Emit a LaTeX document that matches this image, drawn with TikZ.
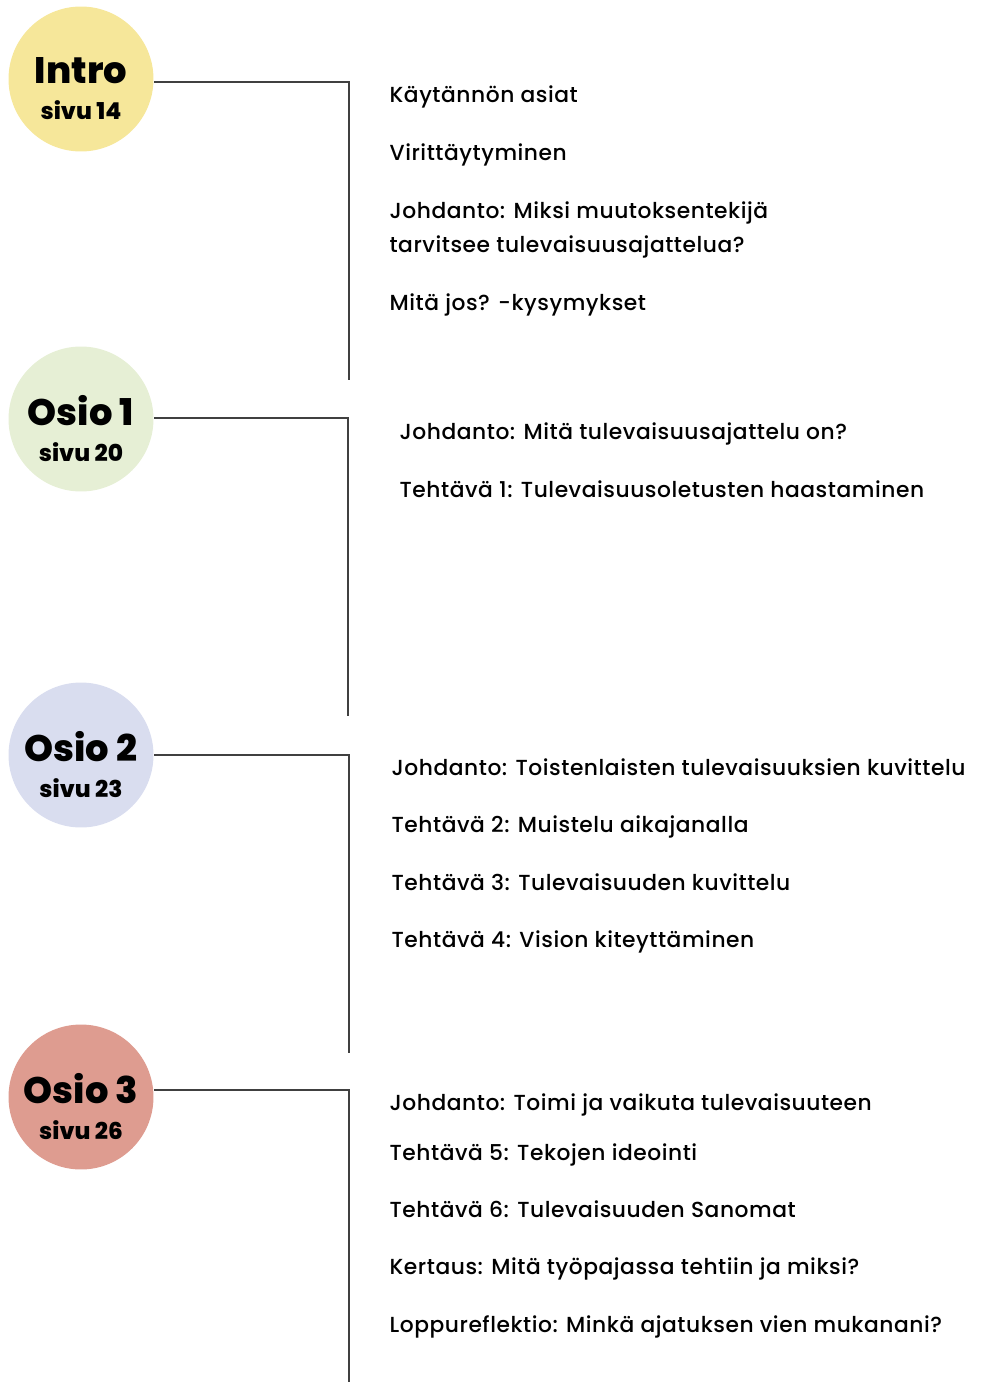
\documentclass[tikz,border=0pt]{standalone}
\usepackage{fontspec}
\setmainfont{Poppins}[UprightFont=* Medium, LetterSpace=2.5]
\newfontfamily\headfont{Poppins}[BoldFont=* ExtraBold]
\usetikzlibrary{positioning}

\definecolor{introcol}{HTML}{F6E79A}
\definecolor{osioAcol}{HTML}{E6EFD5}
\definecolor{osioBcol}{HTML}{D9DDEF}
\definecolor{osioCcol}{HTML}{DE9C90}

\newcommand{\bigtitle}[1]{{\fontsize{21pt}{23pt}\selectfont #1}}

\begin{document}
\begin{tikzpicture}[
      x = 0.02cm, y = -0.02cm,     % one unit is one pixel of the sheet
      line width = 0.7pt           % thin connectors
    ]

    \tikzstyle{C1}=[      % Defines style for the section circles
      circle,
      minimum size = 2.9cm,
      inner sep = 0pt
    ]

    \tikzstyle{H1}=[      % Defines style for the circle titles
      align = center,
      inner sep = 0pt,
      yshift = -5.5pt,
      font = \headfont\bfseries\fontsize{13.2pt}{20.4pt}\selectfont
    ]

    \tikzstyle{T1}=[      % Defines style for the list items
      anchor = base west,
      inner sep = 0pt,
      align = left,
      font = \fontsize{12.4pt}{19.8pt}\selectfont
    ]

    \tikzstyle{L1}=[      % Defines style for the bracket lines
      draw = black!75
    ]

    \useasboundingbox (0,0) rectangle (985,1382);

    % Definition of the circles
    \node[C1, fill = introcol,
          label = {[H1]center:\bigtitle{Intro}\\sivu 14}] (intro) at (81,79) {};
    \node[C1, fill = osioAcol,
          label = {[H1]center:\bigtitle{Osio 1}\\sivu 20}] (osio1) at (81,419) {};
    \node[C1, fill = osioBcol,
          label = {[H1]center:\bigtitle{Osio 2}\\sivu 23}] (osio2) at (81,755) {};
    \node[C1, fill = osioCcol,
          label = {[H1]center:\bigtitle{Osio 3}\\sivu 26}] (osio3) at (81,1097) {};

    % Corners and ends of the brackets
    \coordinate (introtop) at (349,82);
    \coordinate (introbot) at (349,380);
    \coordinate (osio1top) at (348,418);
    \coordinate (osio1bot) at (348,716);
    \coordinate (osio2top) at (349,755);
    \coordinate (osio2bot) at (349,1053);
    \coordinate (osio3top) at (349,1090);
    \coordinate (osio3bot) at (349,1382);

    % Definition of the brackets
    \draw[L1] (intro.east |- introtop) -- (introtop) -- (introbot);
    \draw[L1] (osio1.east |- osio1top) -- (osio1top) -- (osio1bot);
    \draw[L1] (osio2.east |- osio2top) -- (osio2top) -- (osio2bot);
    \draw[L1] (osio3.east |- osio3top) -- (osio3top) -- (osio3bot);

    % Intro items
    \node[T1] (kaytanto) at (389,103) {Käytännön asiat};
    \node[T1] (viritys) at (389,161) {Virittäytyminen};
    \node[T1] (johdintro) at (389,253)
      {Johdanto: Miksi muutoksentekijä\\tarvitsee tulevaisuusajattelua?};
    \node[T1] (mitajos) at (389,310) {Mitä jos? -kysymykset};

    % Osio 1 items
    \node[T1] (johdosio1) at (399,439) {Johdanto: Mitä tulevaisuusajattelu on?};
    \node[T1] (tehtava1) at (399,497) {Tehtävä 1: Tulevaisuusoletusten haastaminen};

    % Osio 2 items
    \node[T1] (johdosio2) at (391,775) {Johdanto: Toistenlaisten tulevaisuuksien kuvittelu};
    \node[T1] (tehtava2) at (391,832) {Tehtävä 2: Muistelu aikajanalla};
    \node[T1] (tehtava3) at (391,890) {Tehtävä 3: Tulevaisuuden kuvittelu};
    \node[T1] (tehtava4) at (391,947) {Tehtävä 4: Vision kiteyttäminen};

    % Osio 3 items
    \node[T1] (johdosio3) at (389,1110) {Johdanto: Toimi ja vaikuta tulevaisuuteen};
    \node[T1] (tehtava5) at (389,1160) {Tehtävä 5: Tekojen ideointi};
    \node[T1] (tehtava6) at (389,1217) {Tehtävä 6: Tulevaisuuden Sanomat};
    \node[T1] (kertaus) at (389,1274) {Kertaus: Mitä työpajassa tehtiin ja miksi?};
    \node[T1] (loppu) at (389,1332) {Loppureflektio: Minkä ajatuksen vien mukanani?};

  \end{tikzpicture}
\end{document}
